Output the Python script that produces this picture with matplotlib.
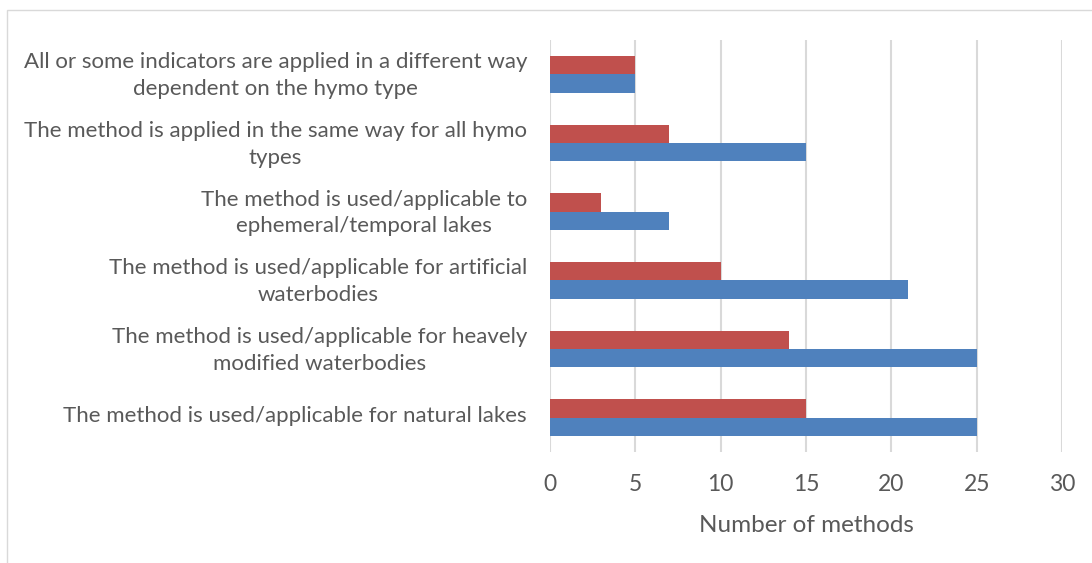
import numpy as np
import matplotlib
matplotlib.use("Agg")
import matplotlib.pyplot as plt
import matplotlib.transforms as mtransforms

# categories listed from bottom to top
categories = [
    "The method is used/applicable for natural lakes",
    "The method is used/applicable for heavely\nmodified waterbodies",
    "The method is used/applicable for artificial\nwaterbodies",
    "The method is used/applicable to\nephemeral/temporal lakes",
    "The method is applied in the same way for all hymo\ntypes",
    "All or some indicators are applied in a different way\ndependent on the hymo type",
]
red_values = [15, 14, 10, 3, 7, 5]
blue_values = [25, 25, 21, 7, 15, 5]
x_ticks = [0, 5, 10, 15, 20, 25, 30]

plt.rcParams['font.family'] = ['Lato', 'DejaVu Sans']
text_col = "#595959"

fig = plt.figure(figsize=(10.92, 5.63), dpi=100)
ax = fig.add_axes([550 / 1092, 1 - 452 / 563, 512 / 1092, 412 / 563])

y = np.arange(len(categories))
h = 0.265
ax.barh(y - h / 2, blue_values, height=h, color="#4F81BD", zorder=3)
ax.barh(y + h / 2, red_values, height=h, color="#C0504D", zorder=3)

ax.set_xlim(0, 30)
ax.set_ylim(-0.5, len(categories) - 0.5)
ax.set_xticks(x_ticks)
ax.set_yticks(y)
ax.set_yticklabels(categories, multialignment="center", linespacing=1.42)
ax.tick_params(axis="both", length=0, colors=text_col)
ax.tick_params(axis="y", pad=16.5, labelsize=16)
ax.tick_params(axis="x", pad=16, labelsize=16.5)
ax.grid(axis="x", color="#D9D9D9", linewidth=1.5, zorder=0)
for s in ax.spines.values():
    s.set_visible(False)

# nudge category labels up a little
shift = mtransforms.ScaledTranslation(0, 4 / 100, fig.dpi_scale_trans)
for lab in ax.get_yticklabels():
    lab.set_transform(lab.get_transform() + shift)

ax.set_xlabel("Number of methods", fontsize=17.5, color=text_col, labelpad=14.5)

# outer chart border
border = plt.Rectangle((7 / 1092, -0.01), 1.02, 1 - 10 / 563 + 0.01,
                       transform=fig.transFigure, fill=False,
                       edgecolor="#D9D9D9", linewidth=1)
fig.patches.append(border)

fig.savefig("out.png", dpi=100)
